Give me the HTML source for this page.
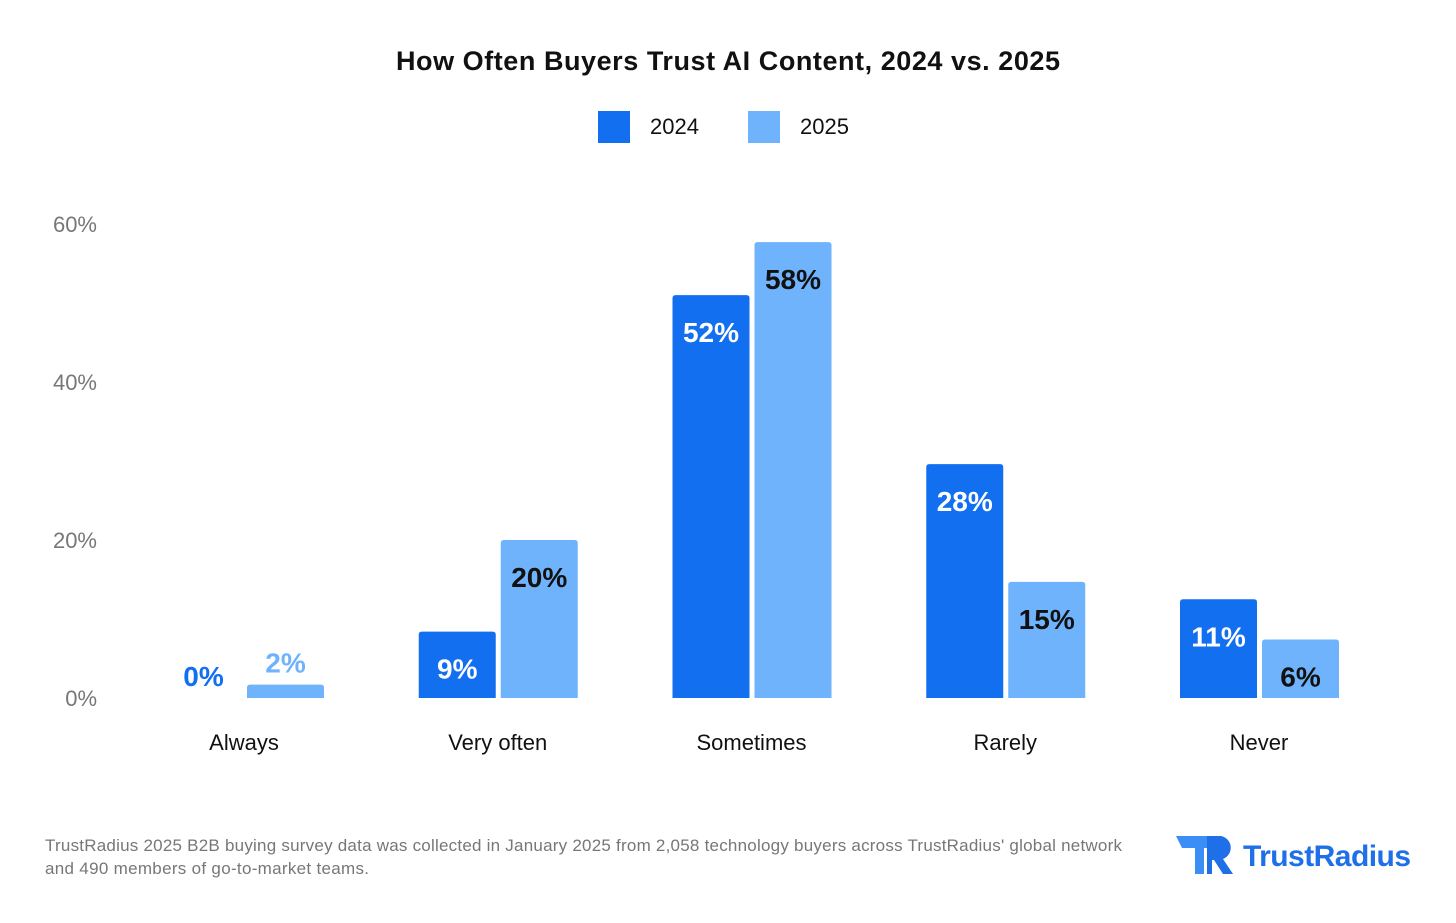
<!DOCTYPE html>
<html><head><meta charset="utf-8"><style>
body{margin:0;background:#fff;font-family:"Liberation Sans",sans-serif;}
svg{display:block}
</style></head><body>
<svg id="chart" width="1456" height="923" xmlns="http://www.w3.org/2000/svg">
<text x="728" y="70" text-anchor="middle" font-size="27" font-weight="bold" fill="#111" textLength="664">How Often Buyers Trust AI Content, 2024 vs. 2025</text>
<g>
<rect x="598" y="111" width="32" height="32" fill="#126ff0"/>
<text x="650" y="134" font-size="22" fill="#111">2024</text>
<rect x="748" y="111" width="32" height="32" fill="#6fb3fd"/>
<text x="800" y="134" font-size="22" fill="#111">2025</text>
</g>
<g id="axis"></g>
<g id="bars"></g>
<text x="45" y="851" font-size="17" fill="#777" textLength="1077">TrustRadius 2025 B2B buying survey data was collected in January 2025 from 2,058 technology buyers across TrustRadius' global network</text>
<text x="45" y="874" font-size="17" fill="#777" textLength="324">and 490 members of go-to-market teams.</text>
<g>
<polygon points="1176,836 1208,836 1214,848 1204,848 1204,874 1195,874 1195,848 1182,848" fill="#3a8ef6"/>
<path d="M1207,836 h14 a12,12 0 0 1 2,23 l10,15 h-10 l-9,-14 h-2 v14 h-5 z" fill="#1e6fe8"/>
<text x="1243" y="866" font-size="30" font-weight="bold" fill="#1e6fe8" textLength="168">TrustRadius</text>
</g>
</svg>
<script>
const categories=["Always","Very often","Sometimes","Rarely","Never"];
const values2024=[0,8.4,51,29.6,12.5];
const values2025=[1.7,20,57.7,14.7,7.4];
const labels2024=["0%","9%","52%","28%","11%"];
const labels2025=["2%","20%","58%","15%","6%"];
const ticks=[0,20,40,60];
const NS="http://www.w3.org/2000/svg";
const y0=698,pxPer=7.9;
const y=v=>y0-v*pxPer;
const x=i=>244+i*253.75;
const bw=77;
function el(tag,attrs,parent,txt){const e=document.createElementNS(NS,tag);for(const k in attrs)e.setAttribute(k,attrs[k]);if(txt!==undefined)e.textContent=txt;parent.appendChild(e);return e;}
const axis=document.getElementById('axis'),bars=document.getElementById('bars');
ticks.forEach(t=>{
const tt=el('text',{x:97,y:y(t)+8,'text-anchor':'end','font-size':22,fill:'#777'},axis,t+'%');


});
categories.forEach((c,i)=>{
const cx=x(i);
const lab=el('text',{x:cx,y:750,'text-anchor':'middle','font-size':22,fill:'#111'},axis,c);


[[values2024,labels2024,'#126ff0','#fff',cx-79,'2024'],[values2025,labels2025,'#6fb3fd','#111',cx+3,'2025']].forEach(([vals,labs,col,tc,bx,s])=>{
const v=vals[i],top=y(v),h=y0-top;
if(h>0){
const r=el('path',{d:`M${bx},${y0} V${top+3} q0,-3 3,-3 h${bw-6} q3,0 3,3 V${y0} Z`,fill:col},bars);


}
const inside=h>40;
const t=el('text',{x:bx+bw/2,y:inside?top+47:top-12,'text-anchor':'middle','font-size':28,'font-weight':'bold',fill:inside?tc:col},bars,labs[i]);


});
});
</script>
</body></html>
